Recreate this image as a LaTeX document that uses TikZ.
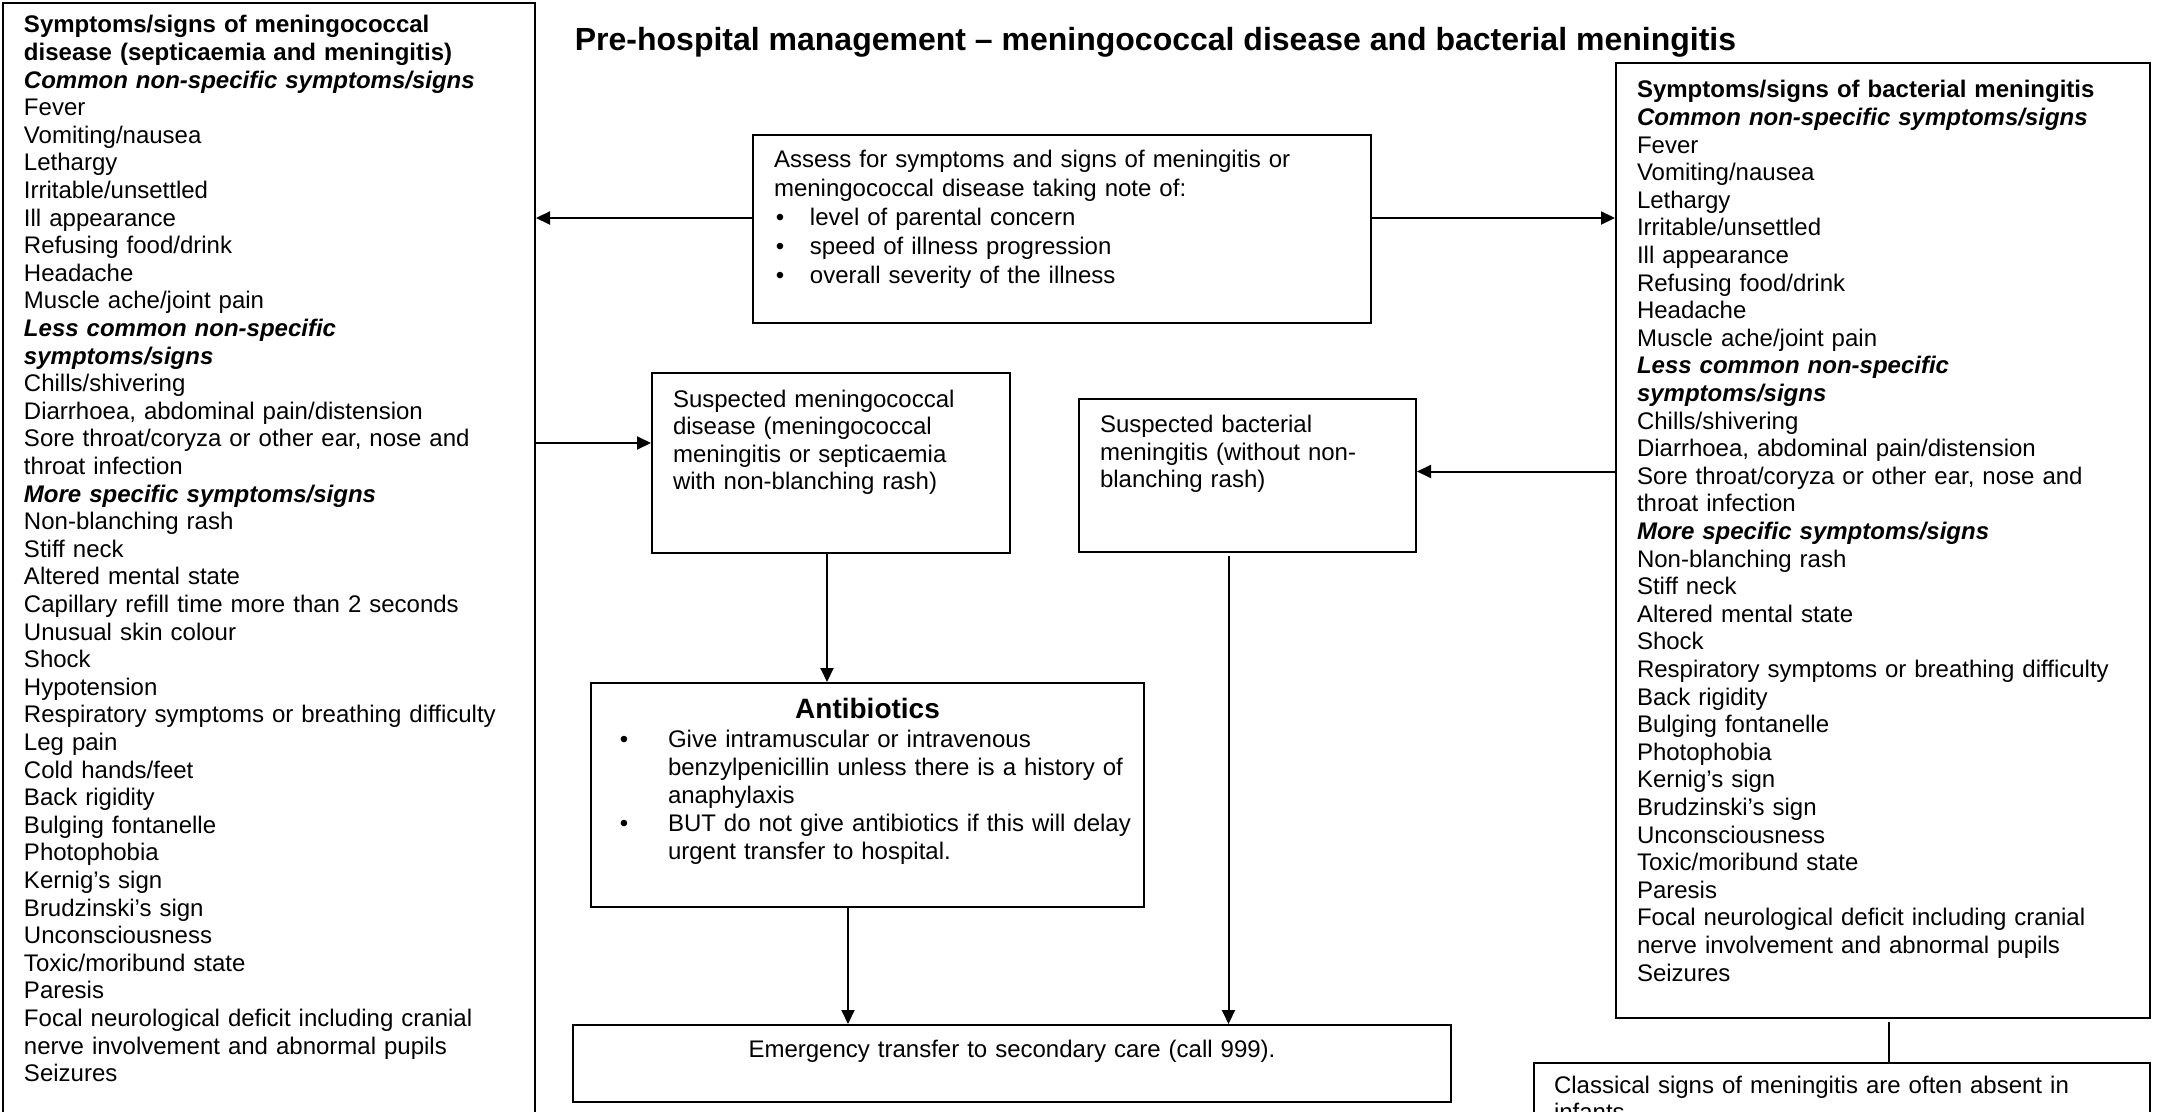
\documentclass[tikz,border=0pt]{standalone}
\usepackage{fontspec}
\setmainfont{Liberation Sans}
\usetikzlibrary{arrows.meta}

\newcommand{\grp}[1]{\textbf{\textit{#1}}}
\newcommand{\itm}[2]{\hspace*{#1}\makebox[#2][l]{\textbullet}}

\begin{document}
\begin{tikzpicture}[x=0.5pt,y=-0.5pt,
    box/.style={draw, line width=1pt, anchor=north west, align=left,
      font=\fontsize{12}{13.8}\selectfont, text height=9pt, inner xsep=10.5pt},
    arr/.style={line width=1pt, -{Triangle[length=7pt,width=6.5pt]}},
    link/.style={line width=1pt}]
    % --- Page frame ---
    \useasboundingbox (0,0) rectangle (2157,1112);
    \clip (0,0) rectangle (2157,1112);

    % --- Title ---
    \node[anchor=base, font=\fontsize{16}{18}\selectfont\bfseries] (title) at (1155.5,50.5)
      {Pre-hospital management -- meningococcal disease and bacterial meningitis};

    % --- Left column: meningococcal disease ---
    \node[box, text width=245pt, inner ysep=6pt, text depth=548pt] (mening) at (2,2) {%
      \textbf{Symptoms/signs of meningococcal}\\
      \textbf{disease (septicaemia and meningitis)}\\
      \grp{Common non-specific symptoms/signs}\\
      Fever\\ Vomiting/nausea\\ Lethargy\\ Irritable/unsettled\\ Ill appearance\\
      Refusing food/drink\\ Headache\\ Muscle ache/joint pain\\
      \grp{Less common non-specific}\\ \grp{symptoms/signs}\\
      Chills/shivering\\ Diarrhoea, abdominal pain/distension\\
      Sore throat/coryza or other ear, nose and\\ throat infection\\
      \grp{More specific symptoms/signs}\\
      Non-blanching rash\\ Stiff neck\\ Altered mental state\\
      Capillary refill time more than 2 seconds\\ Unusual skin colour\\
      Shock\\ Hypotension\\ Respiratory symptoms or breathing difficulty\\
      Leg pain\\ Cold hands/feet\\ Back rigidity\\ Bulging fontanelle\\
      Photophobia\\ Kernig’s sign\\ Brudzinski’s sign\\ Unconsciousness\\
      Toxic/moribund state\\ Paresis\\
      Focal neurological deficit including cranial\\
      nerve involvement and abnormal pupils\\ Seizures};

    % --- Right column: bacterial meningitis ---
    \node[box, text width=246pt, inner ysep=8.5pt, text depth=451.5pt] (bacter) at (1615,62) {%
      \textbf{Symptoms/signs of bacterial meningitis}\\
      \grp{Common non-specific symptoms/signs}\\
      Fever\\ Vomiting/nausea\\ Lethargy\\ Irritable/unsettled\\ Ill appearance\\
      Refusing food/drink\\ Headache\\ Muscle ache/joint pain\\
      \grp{Less common non-specific}\\ \grp{symptoms/signs}\\
      Chills/shivering\\ Diarrhoea, abdominal pain/distension\\
      Sore throat/coryza or other ear, nose and\\ throat infection\\
      \grp{More specific symptoms/signs}\\
      Non-blanching rash\\ Stiff neck\\ Altered mental state\\ Shock\\
      Respiratory symptoms or breathing difficulty\\ Back rigidity\\
      Bulging fontanelle\\ Photophobia\\ Kernig’s sign\\ Brudzinski’s sign\\
      Unconsciousness\\ Toxic/moribund state\\ Paresis\\
      Focal neurological deficit including cranial\\
      nerve involvement and abnormal pupils\\ Seizures};

    % --- Middle: flow ---
    \node[box, font=\fontsize{12}{14.5}\selectfont, text width=288pt,
      inner ysep=7.5pt, text depth=70pt] (assess) at (752,134) {%
      Assess for symptoms and signs of meningitis or\\
      meningococcal disease taking note of:\\
      \itm{0.9pt}{17.1pt}level of parental concern\\
      \itm{0.9pt}{17.1pt}speed of illness progression\\
      \itm{0.9pt}{17.1pt}overall severity of the illness};

    \node[box, font=\fontsize{12}{13.7}\selectfont, text width=158pt,
      inner ysep=8.25pt, text depth=64.5pt] (smd) at (651,372) {%
      Suspected meningococcal\\ disease (meningococcal\\
      meningitis or septicaemia\\ with non-blanching rash)};

    \node[box, font=\fontsize{12}{13.75}\selectfont, text width=147.5pt,
      inner ysep=7.75pt, text depth=52pt] (sbm) at (1078,398) {%
      Suspected bacterial\\ meningitis (without non-\\ blanching rash)};

    \node[box, font=\fontsize{12}{14.1}\selectfont, text width=260.5pt, inner xsep=8pt,
      inner ysep=8.5pt, text depth=86pt] (abx) at (590,682) {%
      \makebox[260.5pt]{\fontsize{14}{16}\selectfont\bfseries Antibiotics}\\[0.4pt]
      \itm{6.4pt}{24.1pt}\mbox{Give intramuscular or intravenous}\\
      \hspace*{30.5pt}\mbox{benzylpenicillin unless there is a history of}\\
      \hspace*{30.5pt}anaphylaxis\\
      \itm{6.4pt}{24.1pt}\mbox{BUT do not give antibiotics if this will delay}\\
      \hspace*{30.5pt}\mbox{urgent transfer to hospital.}};

    \node[box, align=center, text width=419pt, inner xsep=10pt,
      inner ysep=7.25pt, text depth=15pt] (emerg) at (572,1024)
      {Emergency transfer to secondary care (call 999).};

    \node[box, text width=288pt, inner xsep=10pt, inner ysep=6pt,
      text depth=40pt] (classic) at (1533,1062) {%
      Classical signs of meningitis are often absent in\\ infants};

    % --- Connectors ---
    \coordinate (aw) at ([yshift=5.5pt]assess.west);
    \coordinate (ae) at ([yshift=5.5pt]assess.east);
    \draw[arr] (aw) -- (aw -| mening.east);
    \draw[arr] (ae) -- (ae -| bacter.west);

    \coordinate (sw) at ([yshift=10pt]smd.west);
    \draw[arr] (sw -| mening.east) -- (sw);
    \coordinate (se) at ([yshift=2pt]sbm.east);
    \draw[arr] (se -| bacter.west) -- (se);

    \coordinate (ss) at ([xshift=-2pt]smd.south);
    \draw[arr] (ss) -- (ss |- abx.north);
    \coordinate (as) at ([xshift=-9.75pt]abx.south);
    \draw[arr] (as) -- (as |- emerg.north);
    \coordinate (bs) at ([xshift=-9.5pt,yshift=-1.5pt]sbm.south);
    \draw[arr] (bs) -- (bs |- emerg.north);

    \coordinate (cs) at ([xshift=2.75pt,yshift=-1.5pt]bacter.south);
    \draw[link] (cs) -- (cs |- classic.north);
\end{tikzpicture}
\end{document}
